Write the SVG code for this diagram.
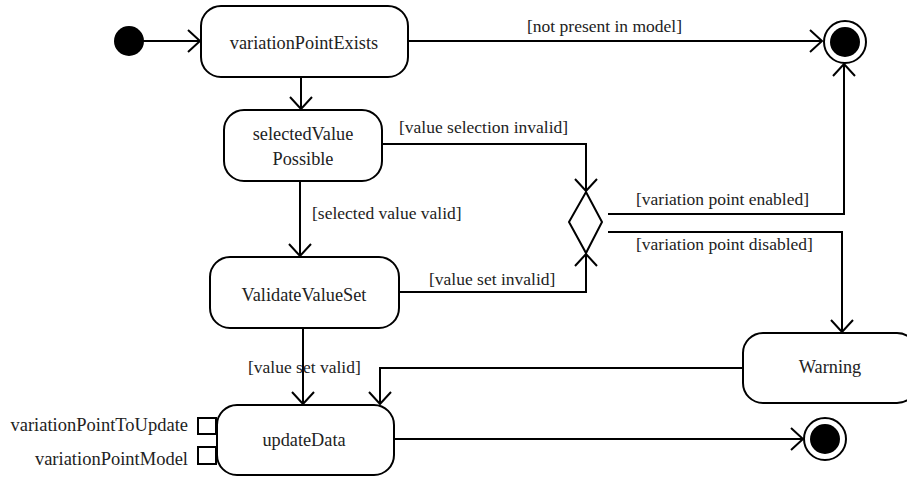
<svg xmlns="http://www.w3.org/2000/svg" width="907" height="478" viewBox="0 0 907 478">
<defs>
<style>
.box{fill:#fff;stroke:#000;stroke-width:2}
.ln{fill:none;stroke:#000;stroke-width:2;marker-end:url(#arr)}
text{font-family:'Liberation Serif','Times New Roman',serif;fill:#222}
.nt{font-size:18.3px;text-anchor:middle}
.lb{font-size:17.5px}
.pn{font-size:18.5px;text-anchor:end}
</style>
<marker id="arr" markerUnits="userSpaceOnUse" markerWidth="26" markerHeight="26" refX="13" refY="12" orient="auto" viewBox="0 0 26 24">
<path d="M1,1 L13,12 L1,23" fill="none" stroke="#000" stroke-width="2"/>
</marker>
</defs>
<rect width="907" height="478" fill="#fff"/>
<g id="connectors">
<line class="ln" x1="143" y1="41" x2="200" y2="41"/>
<line class="ln" x1="408" y1="41" x2="822" y2="41"/>
<line class="ln" x1="301" y1="77" x2="301" y2="109"/>
<polyline class="ln" points="382,144 586,144 586,191"/>
<line class="ln" x1="300" y1="181" x2="300" y2="256"/>
<polyline class="ln" points="399,292 586,292 586,254"/>
<polyline class="ln" points="608,214 844,214 844,64"/>
<polyline class="ln" points="608,232 842,232 842,332"/>
<polyline class="ln" points="743,368 380,368 380,404"/>
<line class="ln" x1="303" y1="328" x2="303" y2="404"/>
<line class="ln" x1="394" y1="439" x2="803" y2="439"/>
<text class="lb" x="527" y="31.5">[not present in model]</text>
<text class="lb" x="399" y="133">[value selection invalid]</text>
<text class="lb" x="312" y="219">[selected value valid]</text>
<text class="lb" x="429" y="285">[value set invalid]</text>
<text class="lb" x="636" y="205">[variation point enabled]</text>
<text class="lb" x="636" y="250">[variation point disabled]</text>
<text class="lb" x="248" y="373">[value set valid]</text>
</g>
<g id="initial"><circle cx="129" cy="41" r="15" fill="#000"/></g>
<g id="variationPointExists">
<rect class="box" x="201" y="6" width="207" height="71" rx="20"/>
<text class="nt" x="304" y="48.5">variationPointExists</text>
</g>
<g id="selectedValuePossible">
<rect class="box" x="224" y="110" width="158" height="71" rx="20"/>
<text class="nt" x="303" y="140">selectedValue</text>
<text class="nt" x="303" y="165">Possible</text>
</g>
<g id="ValidateValueSet">
<rect class="box" x="210" y="257" width="189" height="71" rx="20"/>
<text class="nt" x="304" y="301">ValidateValueSet</text>
</g>
<g id="decision">
<polygon class="box" points="586,192 602,222 586,253 569,222"/>
</g>
<g id="Warning">
<rect class="box" x="743" y="333" width="174" height="70" rx="20"/>
<text class="nt" x="830" y="373">Warning</text>
</g>
<g id="updateData">
<rect class="box" x="217" y="405" width="177" height="70" rx="20"/>
<text class="nt" x="304" y="446">updateData</text>
</g>
<g id="pinToUpdate">
<rect class="box" x="198" y="418" width="18" height="16"/>
<text class="pn" x="188" y="431">variationPointToUpdate</text>
</g>
<g id="pinModel">
<rect class="box" x="198" y="447" width="18" height="17"/>
<text class="pn" x="188" y="465">variationPointModel</text>
</g>
<g id="final1">
<circle cx="845" cy="42" r="21" fill="#fff" stroke="#000" stroke-width="2"/>
<circle cx="845" cy="42" r="15" fill="#000"/>
</g>
<g id="final2">
<circle cx="825" cy="439" r="21" fill="#fff" stroke="#000" stroke-width="2"/>
<circle cx="825" cy="439" r="15" fill="#000"/>
</g>
</svg>
